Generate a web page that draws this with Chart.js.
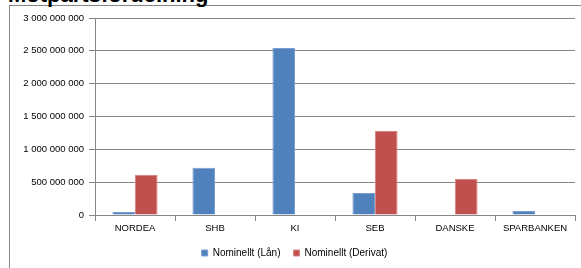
<!DOCTYPE html>
<html>
<head>
<meta charset="utf-8">
<script src="https://cdn.jsdelivr.net/npm/chart.js@4.4.1/dist/chart.umd.min.js"></script>
<style>
    html, body { margin: 0; padding: 0; background: #fff; overflow: hidden; }
    #wrap { position: relative; width: 581px; height: 268px; }
    #frame {
        position: absolute; left: 9px; top: 5px; width: 575px; height: 300px;
        border: 1px solid #868686; box-sizing: border-box;
    }
    #title {
        position: absolute; left: 8px; top: -18px;
        font: bold 22px 'Liberation Sans', Arial, sans-serif; color: #000;
        white-space: nowrap;
    }
    canvas { position: absolute; left: 0; top: 0; }
</style>
</head>
<body>
<div id="wrap">
    <div id="frame"></div>
    <div id="title">Motpartsfördelning</div>
    <canvas id="chart" width="581" height="268"></canvas>
</div>
<script>
const categories = ['NORDEA', 'SHB', 'KI', 'SEB', 'DANSKE', 'SPARBANKEN'];
const lanValues = [45000000, 720000000, 2545000000, 335000000, 0, 60000000];
const derivatValues = [610000000, 0, 0, 1280000000, 550000000, 0];
const seriesLabels = ['Nominellt (Lån)', 'Nominellt (Derivat)'];
const yTicks = [0, 500000000, 1000000000, 1500000000, 2000000000, 2500000000, 3000000000];

const fontFamily = "'Liberation Sans', Arial, sans-serif";
Chart.defaults.font.family = fontFamily;
Chart.defaults.color = '#000';

function formatSpaced(value) {
    return String(Math.round(value)).replace(/\B(?=(\d{3})+(?!\d))/g, ' ');
}

const ctx = document.getElementById('chart').getContext('2d');
new Chart(ctx, {
    type: 'bar',
    data: {
        labels: categories,
        datasets: [
            {
                label: seriesLabels[0],
                data: lanValues,
                backgroundColor: '#4F81BD',
                borderColor: '#7A9FD0',
                borderWidth: 1,
            },
            {
                label: seriesLabels[1],
                data: derivatValues,
                backgroundColor: '#C0504D',
                borderColor: '#D98583',
                borderWidth: 1,
            },
        ],
    },
    options: {
        responsive: false,
        animation: false,
        layout: { padding: { left: 14, right: 6, top: 18, bottom: 0 } },
        datasets: {
            bar: { categoryPercentage: 0.565, barPercentage: 1.0 },
        },
        scales: {
            x: {
                grid: {
                    offset: true,
                    drawOnChartArea: false,
                    drawTicks: true,
                    tickLength: 6,
                    color: '#868686',
                },
                border: { color: '#868686' },
                ticks: { font: { size: 9.5 }, padding: 2, maxRotation: 0, autoSkip: false },
                afterFit: (scale) => { scale.height = 20; },
            },
            y: {
                min: 0,
                max: 3000000000,
                afterBuildTicks: (scale) => {
                    scale.ticks = yTicks.map((v) => ({ value: v }));
                },
                grid: { color: '#868686', tickLength: 6 },
                border: { color: '#868686' },
                ticks: {
                    font: { size: 9.5 },
                    padding: 5,
                    callback: (v) => formatSpaced(v),
                },
                afterFit: (scale) => { scale.width = 81; },
            },
        },
        plugins: {
            legend: {
                position: 'bottom',
                labels: {
                    boxWidth: 6,
                    boxHeight: 6,
                    padding: 13,
                    font: { size: 10 },
                },
            },
            tooltip: { enabled: false },
        },
    },
});
</script>
</body>
</html>
